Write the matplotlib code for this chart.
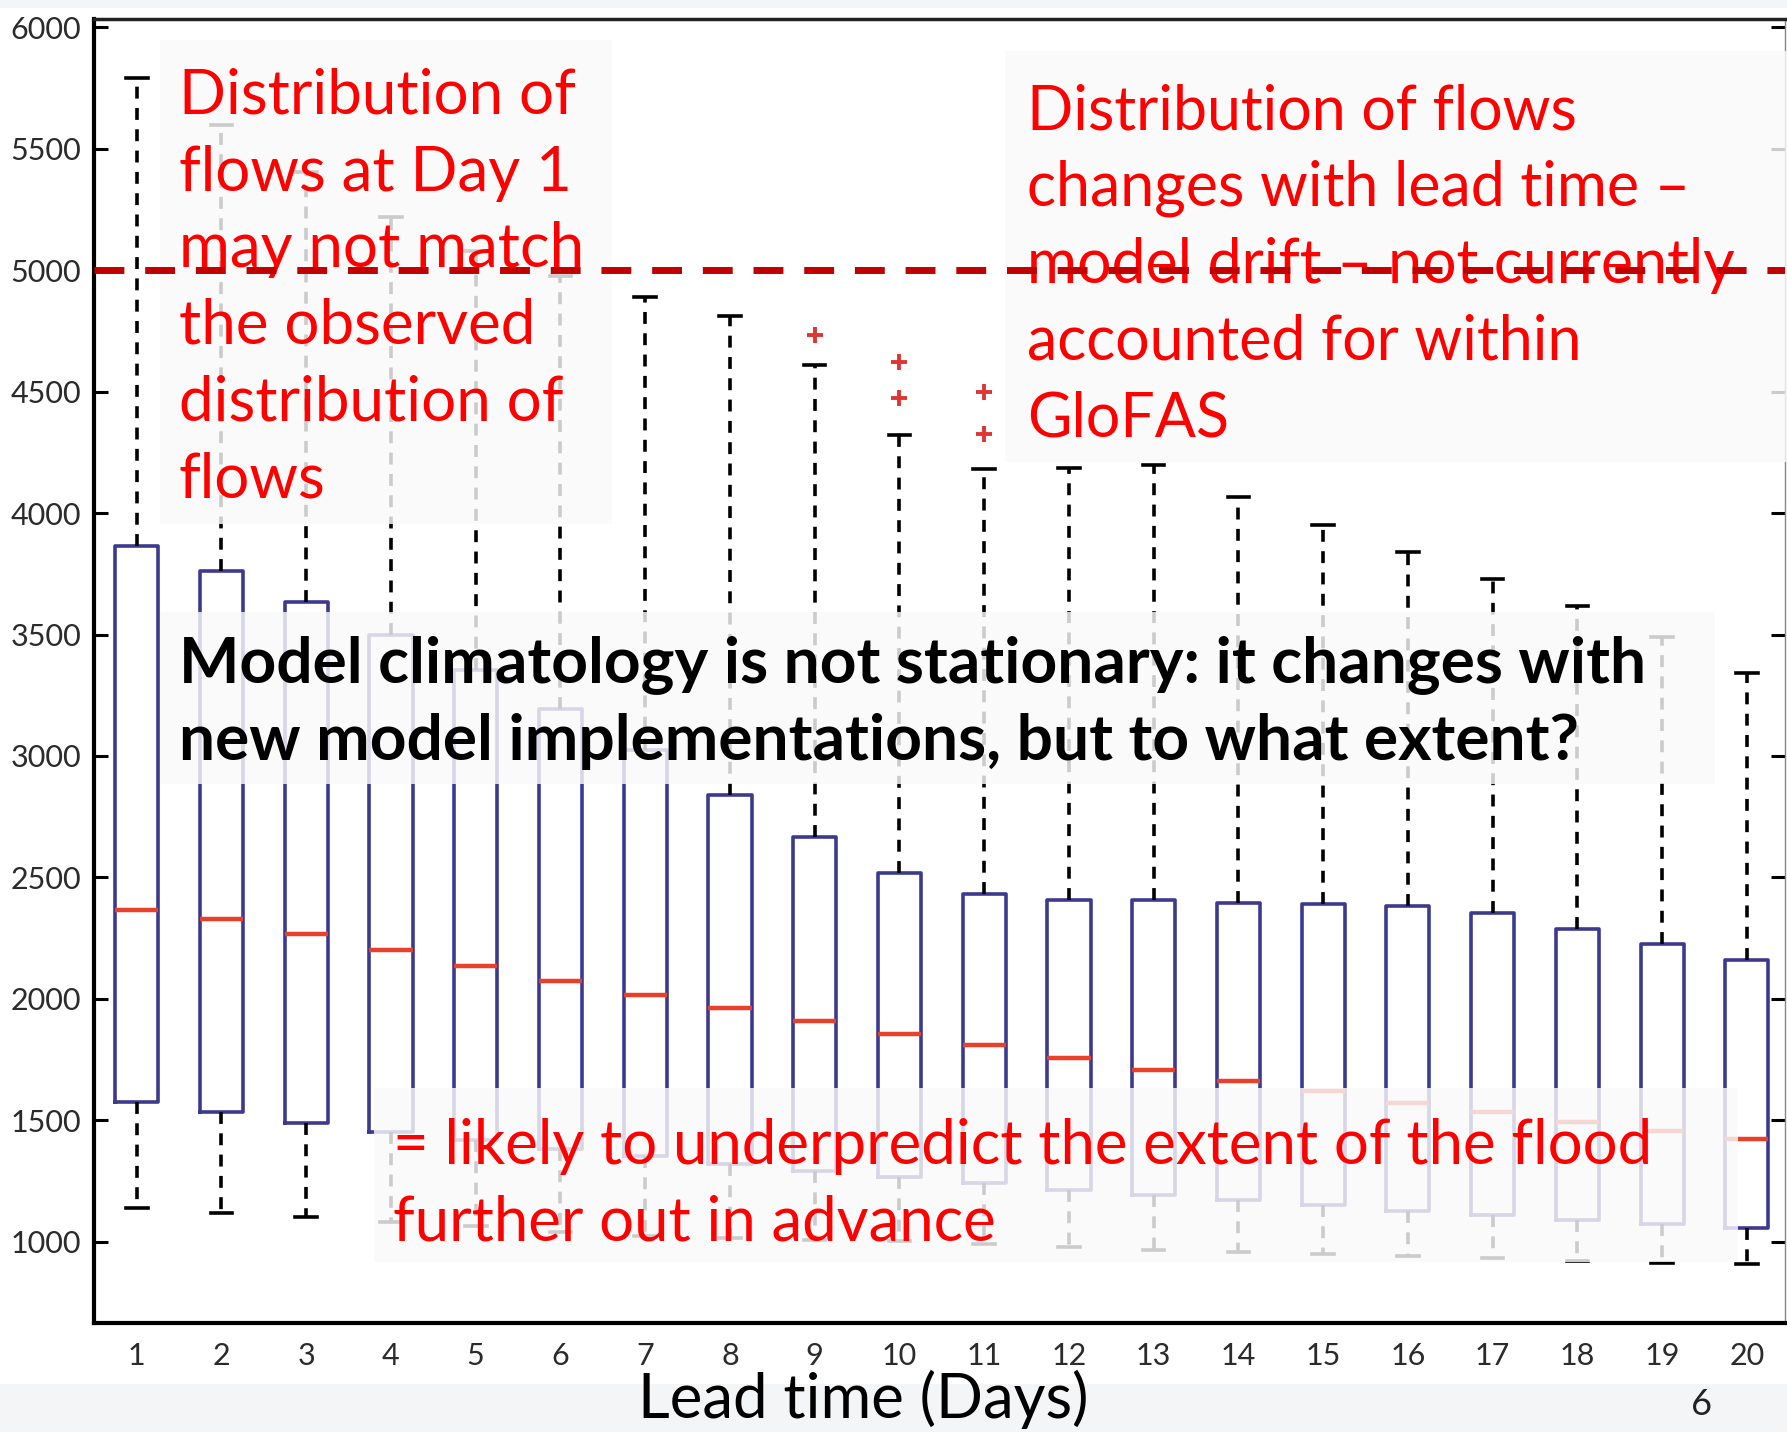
import matplotlib
matplotlib.use("Agg")
import matplotlib.pyplot as plt
from matplotlib.patches import Rectangle

# lead time (days) and box statistics
days = list(range(1, 21))
q1 = [1576, 1532, 1490, 1452, 1417, 1383, 1351, 1318, 1292, 1268,
      1241, 1214, 1191, 1171, 1152, 1125, 1109, 1089, 1071, 1056]
med = [2365, 2327, 2265, 2202, 2137, 2075, 2016, 1964, 1908, 1857,
       1810, 1755, 1708, 1660, 1622, 1573, 1532, 1494, 1456, 1421]
q3 = [3865, 3760, 3635, 3500, 3355, 3195, 3025, 2840, 2667, 2517,
      2433, 2409, 2405, 2395, 2391, 2381, 2353, 2288, 2227, 2161]
whislo = [1140, 1120, 1100, 1080, 1063, 1040, 1025, 1015, 1005, 1002,
          992, 977, 966, 958, 950, 939, 931, 922, 912, 910]
whishi = [5790, 5600, 5405, 5220, 5080, 4975, 4890, 4810, 4610, 4320,
          4180, 4184, 4198, 4067, 3950, 3842, 3730, 3617, 3491, 3341]
fliers = {9: [4732], 10: [4624, 4474], 11: [4497, 4324]}
yticks = [1000, 1500, 2000, 2500, 3000, 3500, 4000, 4500, 5000, 5500, 6000]
threshold = 5000

note_left = ["Distribution of", "flows at Day 1", "may not match",
             "the observed", "distribution of", "flows"]
note_right = ["Distribution of flows", "changes with lead time \u2013",
              "model drift \u2013 not currently", "accounted for within", "GloFAS"]
note_mid = ["Model climatology is not stationary: it changes with",
            "new model implementations, but to what extent?"]
note_bottom = ["= likely to underpredict the extent of the flood",
               "further out in advance"]

W, H = 1787, 1432
plt.rcParams["font.family"] = ["Lato", "DejaVu Sans"]

fig = plt.figure(figsize=(W / 100, H / 100), dpi=100, facecolor="white")
ax = fig.add_axes([93.5 / W, 1 - 1323 / H, (1785 - 93.5) / W, (1323 - 19) / H])

stats = []
for i, d in enumerate(days):
    stats.append(dict(med=med[i], q1=q1[i], q3=q3[i], whislo=whislo[i],
                      whishi=whishi[i], fliers=fliers.get(d, [])))

ax.bxp(stats, positions=days, widths=0.51, patch_artist=False,
       boxprops=dict(color="#3d3a8e", linewidth=2.6),
       medianprops=dict(color="#e8402a", linewidth=3.2),
       whiskerprops=dict(color="black", linewidth=2.6, linestyle=(0, (3.3, 2.6))),
       capprops=dict(color="black", linewidth=2.6),
       flierprops=dict(marker="+", markeredgecolor="#e03535", markersize=11,
                       markeredgewidth=2.8))

ax.set_xlim(0.49, 20.45)
ax.set_ylim(665, 6035)
ax.set_yticks(yticks)
ax.set_xticks(days)
ax.set_xticklabels([str(d) for d in days])
ax.tick_params(axis="y", direction="in", length=10, width=2.2, right=True,
               labelsize=22, labelcolor="#2b2b2b", pad=9)
ax.tick_params(axis="x", length=0, labelsize=22, labelcolor="#2b2b2b", pad=14)
for s in ["left", "bottom"]:
    ax.spines[s].set_linewidth(3)
ax.spines["top"].set_linewidth(2.5)
ax.spines["top"].set_color("#222222")
ax.spines["right"].set_linewidth(1)
ax.spines["right"].set_color("#888888")


def fx(x):
    return x / W


def fy(y):
    return 1 - y / H


# translucent panels behind the notes
panels = [(160, 40, 612, 524), (1005, 51, 1787, 462),
          (160, 612, 1715, 784), (374, 1088, 1738, 1262)]
for x0, y0, x1, y1 in panels:
    ax.add_patch(Rectangle((fx(x0), fy(y1)), fx(x1) - fx(x0), fy(y0) - fy(y1),
                           transform=fig.transFigure, facecolor="#f9f9fa",
                           edgecolor="none", alpha=0.82, zorder=3, clip_on=False))

renderer = fig.canvas.get_renderer()


def note(lines, x, y0, step, width, **kw):
    # one text per line, sized so the widest line spans the width seen on the slide
    texts = [ax.text(fx(x), fy(y0 + i * step), ln, transform=fig.transFigure,
                     fontsize=40, va="baseline", ha="left", zorder=4, **kw)
             for i, ln in enumerate(lines)]
    widest = max(t.get_window_extent(renderer).width for t in texts)
    for t in texts:
        t.set_fontsize(40 * width / widest)


red = "#ff0000"
note(note_left, 179, 114, 76.6, 405, color=red)
note(note_right, 1027, 129, 76.8, 708, color=red)
note(note_mid, 179, 682, 78, 1466, color="black", fontweight="bold")
note(note_bottom, 393, 1164, 76.5, 1259, color=red)

ax.axhline(threshold, color="#c00000", linewidth=5, linestyle=(0, (4.3, 3.0)),
           zorder=5)

# slide strips
fig.patches.append(Rectangle((0, 0), 1, 48 / H, transform=fig.transFigure,
                             facecolor="#f4f5f7", edgecolor="none", zorder=0))
fig.patches.append(Rectangle((0, 1 - 8 / H), 1, 8 / H, transform=fig.transFigure,
                             facecolor="#f4f5f7", edgecolor="none", zorder=0))

xlab = fig.text(fx(863), fy(1418), "Lead time (Days)", fontsize=40, color="black",
                ha="center", va="baseline")
xlab.set_fontsize(40 * 450 / xlab.get_window_extent(renderer).width)
fig.text(fx(1702), fy(1415), "6", fontsize=26, color="#222222",
         ha="center", va="baseline")

fig.savefig("out.png", dpi=100, facecolor="white")
